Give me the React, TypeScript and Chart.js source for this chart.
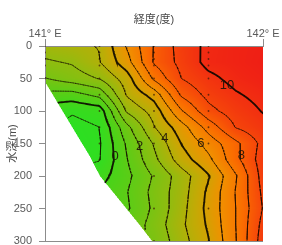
import React, { useEffect, useRef } from 'react';
import { Chart, registerables } from 'chart.js';

Chart.register(...registerables);

const longitudes = [141.0, 141.125, 141.25, 141.375, 141.5, 141.625, 141.75, 141.875, 142.0];
const depths = [0, 25, 50, 75, 100, 125, 150, 175, 200, 225, 250, 275, 300];
// water temperature (°C), one row per depth
const t000 = [3.5, 3.8, 4.05, 6.1, 8.05, 9.4, 10.25, 10.5, 10.7];
const t025 = [2.85, 3.1, 3.95, 5.6, 8.1, 9.3, 10.3, 10.5, 10.8];
const t050 = [1.95, 2.5, 3.05, 4.5, 7.2, 9.0, 9.75, 10.3, 10.6];
const t075 = [0.7, 0.6, 1.3, 4.1, 5.4, 8.15, 9.3, 9.9, 10.3];
const t100 = [-0.5, -0.9, -0.6, 3.15, 4.4, 6.9, 8.7, 9.5, 10.05];
const t125 = [-0.8, -1.3, -1.0, 1.7, 3.95, 5.55, 7.4, 9.05, 9.7];
const t150 = [-1.0, -1.4, -1.1, 1.14, 3.1, 5.02, 6.4, 7.75, 9.3];
const t175 = [-1.0, -1.3, -1.05, 0.95, 2.75, 4.5, 5.75, 7.7, 9.5];
const t200 = [-0.8, -1.0, -0.4, 0.74, 2.1, 3.5, 4.92, 6.9, 9.4];
const t225 = [-0.4, -0.3, 0.05, 0.95, 2.3, 3.55, 5.2, 7.05, 9.2];
const t250 = [0.02, 0.1, 0.3, 0.85, 2.2, 3.65, 5.3, 7.0, 9.05];
const t275 = [0.5, 0.6, 0.9, 1.2, 2.4, 3.8, 5.15, 7.0, 9.3];
const t300 = [1.0, 1.1, 1.3, 1.5, 2.2, 3.6, 4.95, 6.95, 9.5];
const temperatureRows = [t000, t025, t050, t075, t100, t125, t150, t175, t200, t225, t250, t275, t300];

// sea floor profile
const seafloorLon = [141.0, 141.206, 141.252, 141.436, 141.491];
const seafloorDepth = [55, 170, 200, 276, 300];

// isotherms
const contourLevels = [-1, 0, 1, 2, 3, 4, 5, 6, 7, 8, 9, 10];
const boldLevels = [0, 5, 10];

// isotherm labels
const labelText = ['0', '2', '4', '6', '8', '10'];
const labelLon = [141.322, 141.434, 141.55, 141.715, 141.901, 141.835];
const labelDepth = [170, 155, 142, 150, 168, 61];

// observation stations
const stationLon = [141.0, 141.25, 141.5, 141.75];
const stationDepthsA = [0, 10, 20, 30, 50];
const stationDepthsB = [0, 10, 20, 30, 50, 75, 100, 125, 150, 175];
const stationDepthsC = [0, 10, 20, 30, 50, 75, 100, 125, 150, 200, 250, 300];
const stationDepthsD = [0, 10, 20, 30, 50, 75, 100, 125, 150, 200, 250, 300];
const stationDepths = [stationDepthsA, stationDepthsB, stationDepthsC, stationDepthsD];

// axes
const lonTicks = [141, 142];
const lonTickLabels = ['141° E', '142° E'];
const xTitle = '経度(度)';
const yTitle = '水深(m)';

// ---- helpers ----
const colorT = [-1.5, 0, 1.5, 3, 4.5, 6, 7.5, 9, 10.5, 11.5];
const colorRGB = [
  [40, 225, 35], [70, 212, 25], [105, 200, 20], [145, 188, 15], [195, 170, 5],
  [240, 145, 0], [250, 110, 0], [245, 70, 10], [240, 35, 20], [235, 20, 25],
];

function colorFor(t: number): number[] {
  if (t <= colorT[0]) return colorRGB[0];
  for (let k = 0; k < colorT.length - 1; k++) {
    if (t <= colorT[k + 1]) {
      const f = (t - colorT[k]) / (colorT[k + 1] - colorT[k]);
      const a = colorRGB[k], b = colorRGB[k + 1];
      return [a[0] + (b[0] - a[0]) * f, a[1] + (b[1] - a[1]) * f, a[2] + (b[2] - a[2]) * f];
    }
  }
  return colorRGB[colorRGB.length - 1];
}

function seafloorAt(lon: number): number {
  if (lon <= seafloorLon[0]) return seafloorDepth[0];
  for (let k = 0; k < seafloorLon.length - 1; k++) {
    if (lon <= seafloorLon[k + 1]) {
      const f = (lon - seafloorLon[k]) / (seafloorLon[k + 1] - seafloorLon[k]);
      return seafloorDepth[k] + (seafloorDepth[k + 1] - seafloorDepth[k]) * f;
    }
  }
  return Infinity;
}

function isWater(lon: number, dep: number) {
  return dep < seafloorAt(lon);
}

function tempAt(lon: number, dep: number): number {
  const nx = longitudes.length, ny = depths.length;
  let fi = (lon - longitudes[0]) / (longitudes[1] - longitudes[0]);
  let fj = (dep - depths[0]) / (depths[1] - depths[0]);
  fi = Math.max(0, Math.min(nx - 1.0001, fi));
  fj = Math.max(0, Math.min(ny - 1.0001, fj));
  const i = Math.floor(fi), j = Math.floor(fj);
  const u = fi - i, v = fj - j;
  const r0 = temperatureRows[j], r1 = temperatureRows[j + 1];
  const top = r0[i] * (1 - u) + r0[i + 1] * u;
  const bot = r1[i] * (1 - u) + r1[i + 1] * u;
  return top * (1 - v) + bot * v;
}

type P = { x: number; y: number };

function buildContours() {
  const NX = 130, NY = 120;
  const lon0 = longitudes[0], lon1 = longitudes[longitudes.length - 1];
  const d0 = depths[0], d1 = depths[depths.length - 1];
  const lons: number[] = [], deps: number[] = [];
  for (let i = 0; i <= NX; i++) lons.push(lon0 + ((lon1 - lon0) * i) / NX);
  for (let j = 0; j <= NY; j++) deps.push(d0 + ((d1 - d0) * j) / NY);
  const vals: number[][] = [];
  for (let j = 0; j <= NY; j++) {
    const row: number[] = [];
    for (let i = 0; i <= NX; i++) row.push(isWater(lons[i], deps[j]) ? tempAt(lons[i], deps[j]) : NaN);
    vals.push(row);
  }
  const result: P[][] = [];
  for (const level of contourLevels) {
    const pts: P[] = [];
    const seg = (p: P, q: P) => { pts.push(p, q, { x: NaN, y: NaN }); };
    for (let j = 0; j < NY; j++) {
      for (let i = 0; i < NX; i++) {
        const a = vals[j][i], b = vals[j][i + 1], c = vals[j + 1][i + 1], d = vals[j + 1][i];
        if (isNaN(a) || isNaN(b) || isNaN(c) || isNaN(d)) continue;
        const idx = (a >= level ? 8 : 0) | (b >= level ? 4 : 0) | (c >= level ? 2 : 0) | (d >= level ? 1 : 0);
        if (idx === 0 || idx === 15) continue;
        const x0 = lons[i], x1 = lons[i + 1], y0 = deps[j], y1 = deps[j + 1];
        const top = () => ({ x: x0 + ((level - a) / (b - a)) * (x1 - x0), y: y0 });
        const right = () => ({ x: x1, y: y0 + ((level - b) / (c - b)) * (y1 - y0) });
        const bottom = () => ({ x: x0 + ((level - d) / (c - d)) * (x1 - x0), y: y1 });
        const left = () => ({ x: x0, y: y0 + ((level - a) / (d - a)) * (y1 - y0) });
        const center = (a + b + c + d) / 4;
        switch (idx) {
          case 1: case 14: seg(left(), bottom()); break;
          case 2: case 13: seg(bottom(), right()); break;
          case 3: case 12: seg(left(), right()); break;
          case 4: case 11: seg(top(), right()); break;
          case 6: case 9: seg(top(), bottom()); break;
          case 7: case 8: seg(left(), top()); break;
          case 5:
            if (center >= level) { seg(left(), top()); seg(bottom(), right()); }
            else { seg(top(), right()); seg(left(), bottom()); }
            break;
          case 10:
            if (center >= level) { seg(top(), right()); seg(left(), bottom()); }
            else { seg(left(), top()); seg(bottom(), right()); }
            break;
        }
      }
    }
    result.push(pts);
  }
  return result;
}

const FONT_FAMILY = "'Liberation Sans', Arial, 'Noto Sans CJK JP', sans-serif";

const sectionPlugin = {
  id: 'section',
  beforeDraw(chart: any) {
    const { ctx, chartArea, scales } = chart;
    const xs = scales.x, ys = scales.y;
    const L = Math.round(chartArea.left), T = Math.round(chartArea.top);
    const W = Math.round(chartArea.right) - L, H = Math.round(chartArea.bottom) - T;
    const img = ctx.createImageData(W, H);
    const data = img.data;
    for (let py = 0; py < H; py++) {
      for (let px = 0; px < W; px++) {
        let cov = 0;
        for (const sx of [0.25, 0.75]) for (const sy of [0.25, 0.75]) {
          if (isWater(xs.getValueForPixel(L + px + sx), ys.getValueForPixel(T + py + sy))) cov++;
        }
        if (cov === 0) continue;
        const lon = xs.getValueForPixel(L + px + 0.5);
        const dep = ys.getValueForPixel(T + py + 0.5);
        const col = colorFor(tempAt(lon, dep));
        const o = (py * W + px) * 4;
        data[o] = col[0]; data[o + 1] = col[1]; data[o + 2] = col[2]; data[o + 3] = Math.round((255 * cov) / 4);
      }
    }
    ctx.putImageData(img, L, T);
  },
  afterDatasetsDraw(chart: any) {
    const { ctx, scales } = chart;
    ctx.save();
    ctx.font = `13px ${FONT_FAMILY}`;
    ctx.textAlign = 'center';
    ctx.textBaseline = 'middle';
    ctx.fillStyle = 'rgba(30,20,10,0.9)';
    labelText.forEach((t, k) => {
      ctx.fillText(t, scales.x.getPixelForValue(labelLon[k]), scales.y.getPixelForValue(labelDepth[k]));
    });
    ctx.restore();
  },
  afterDraw(chart: any) {
    const { ctx, chartArea } = chart;
    ctx.save();
    ctx.strokeStyle = '#8c8c8c';
    ctx.lineWidth = 1;
    const yb = Math.round(chartArea.bottom - 0.5) + 0.5;
    ctx.beginPath();
    ctx.moveTo(chartArea.left, yb);
    ctx.lineTo(chartArea.right, yb);
    ctx.stroke();
    ctx.restore();
  },
};

export default function App() {
  const ref = useRef<HTMLCanvasElement>(null);
  useEffect(() => {
    const canvas = ref.current!;
    const contours = buildContours();
    const datasets: any[] = contours.map((pts, k) => {
      const bold = boldLevels.includes(contourLevels[k]);
      return {
        label: `${contourLevels[k]}`,
        data: pts,
        showLine: true,
        spanGaps: false,
        pointRadius: 0,
        borderWidth: bold ? 1.8 : 0.9,
        borderColor: bold ? 'rgba(10,5,0,0.9)' : 'rgba(20,10,0,0.6)',
        borderCapStyle: 'round',
        fill: false,
      };
    });
    const stationPts: P[] = [];
    stationLon.forEach((lon, k) => stationDepths[k].forEach((d) => stationPts.push({ x: lon, y: d })));
    datasets.push({
      label: 'stations',
      data: stationPts,
      showLine: false,
      pointRadius: 0.9,
      pointBorderWidth: 0,
      pointBackgroundColor: 'rgba(60,30,10,0.75)',
    });
    const tickFont = { family: FONT_FAMILY, size: 11 };
    const chart = new Chart(canvas, {
      type: 'scatter',
      data: { datasets },
      options: {
        animation: false,
        responsive: false,
        devicePixelRatio: 1,
        events: [],
        layout: { padding: { left: 0, right: 19, top: 0, bottom: 1 } },
        plugins: { legend: { display: false }, tooltip: { enabled: false } },
        scales: {
          x: {
            type: 'linear',
            position: 'top',
            min: 141,
            max: 142,
            afterBuildTicks: (s: any) => { s.ticks = lonTicks.map((v) => ({ value: v })); },
            afterFit: (s: any) => { s.height = 46; s.paddingLeft = 0; s.paddingRight = 0; },
            ticks: {
              callback: (v: any) => { const k = lonTicks.indexOf(Number(v)); return k >= 0 ? lonTickLabels[k] : ''; },
              font: tickFont,
              color: '#5a5a5a',
              padding: -2,
              maxRotation: 0,
              autoSkip: false,
            },
            grid: { drawOnChartArea: false, drawTicks: true, tickLength: 7, color: '#8c8c8c' },
            border: { display: true, color: '#8c8c8c' },
            title: { display: true, text: xTitle, font: tickFont, color: '#4a4a4a', padding: { top: 13, bottom: 0 } },
          },
          y: {
            type: 'linear',
            reverse: true,
            min: 0,
            max: 300,
            afterFit: (s: any) => { s.width = 45; s.paddingTop = 0; s.paddingBottom = 0; },
            ticks: { stepSize: 50, font: tickFont, color: '#5a5a5a', padding: 7 },
            grid: { drawOnChartArea: false, drawTicks: true, tickLength: 6, color: '#8c8c8c' },
            border: { display: true, color: '#8c8c8c' },
            title: { display: true, text: yTitle, font: tickFont, color: '#4a4a4a', padding: { top: 6, bottom: 0 } },
          },
        },
      } as any,
      plugins: [sectionPlugin],
    });
    return () => chart.destroy();
  }, []);
  return (
    <div style={{ position: 'absolute', left: 0, top: 0, width: 282, height: 245 }}>
      <canvas ref={ref} width={282} height={245} style={{ width: 282, height: 245, display: 'block' }} />
    </div>
  );
}
